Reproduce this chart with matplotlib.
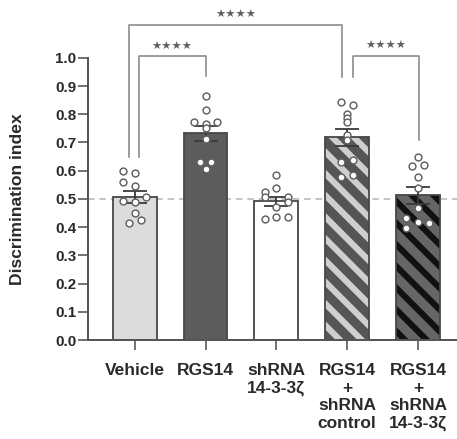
import numpy as np
import matplotlib
matplotlib.use("Agg")
import matplotlib.pyplot as plt

# groups and individual points
groups = ["Vehicle", "RGS14", "shRNA\n14-3-3ζ", "RGS14\n+\nshRNA\ncontrol", "RGS14\n+\nshRNA\n14-3-3ζ"]
vehicle = [0.600, 0.591, 0.560, 0.544, 0.506, 0.493, 0.488, 0.451, 0.426, 0.416]
rgs14 = [0.866, 0.816, 0.771, 0.766, 0.771, 0.751, 0.712, 0.632, 0.632, 0.605]
shrna = [0.585, 0.538, 0.526, 0.506, 0.508, 0.488, 0.473, 0.428, 0.437, 0.435]
rgs14_ctrl = [0.845, 0.833, 0.801, 0.786, 0.772, 0.727, 0.709, 0.632, 0.638, 0.576, 0.585]
rgs14_sh = [0.650, 0.615, 0.621, 0.576, 0.540, 0.467, 0.432, 0.417, 0.414, 0.396]
data = [vehicle, rgs14, shrna, rgs14_ctrl, rgs14_sh]

# horizontal scatter of the dots (in dot columns)
jitter = [
    [-1, 0, -1, 0, 1, -1, 0, 0, 0.5, -0.5],
    [0, 0, -1, 0, 1, 0, 0, -0.5, 0.5, 0],
    [0, 0, -1, -1, 1, 1, 0, -1, 0, 1],
    [-0.5, 0.5, 0, 0, 0, 0, 0, -0.5, 0.5, -0.5, 0.5],
    [0, -0.5, 0.5, 0, 0, 0, -1, 0, 1, -1],
]

# significance brackets: left x, right x, top, left foot, right foot
brackets = [
    (-0.08, 2.925, 1.117, 0.649, 0.933),
    (0.06, 1.0, 1.005, 0.649, 0.936),
    (3.08, 4.01, 1.007, 0.933, 0.709),
]

DPI = 130
fig = plt.figure(figsize=(457 / DPI, 439 / DPI), dpi=DPI)
ax = fig.add_axes([0.1926, 0.2255, 0.807, 0.765])
plt.rcParams['hatch.linewidth'] = 3.4

dark = "#474747"
txt = "#2a2a2a"
x = np.arange(len(groups))
means = [np.mean(d) for d in data]
sems = [np.std(d, ddof=1) / np.sqrt(len(d)) for d in data]
w = 0.62

ax.axhline(0.5, color="#b8b8b8", lw=0.9, ls=(0, (4, 3)), zorder=0.5, clip_on=False)

faces = ["#dcdcdc", "#5c5c5c", "white", "#555555", "#666666"]
hatches = [None, None, None, "\\\\", "\\\\"]
hcols = [None, None, None, "#cfcfcf", "#111111"]
for i in range(len(groups)):
    if hatches[i]:
        ax.bar(x[i], means[i], w, color=faces[i], edgecolor=hcols[i], hatch=hatches[i], lw=0, zorder=1)
        ax.bar(x[i], means[i], w, fill=False, edgecolor=dark, lw=1.0, zorder=1.5)
    else:
        ax.bar(x[i], means[i], w, color=faces[i], edgecolor=dark, lw=1.0, zorder=1)

ax.errorbar(x, means, yerr=sems, fmt="none", ecolor="#3a3a3a", elinewidth=1.0,
            capsize=6.5, capthick=1.0, zorder=3)

for i, d in enumerate(data):
    xs = x[i] + np.array(jitter[i]) * 0.163
    ax.plot(xs, d, "o", ms=3.8, mfc="white", mec="#606060", mew=0.8, zorder=4, clip_on=False)

for x1, x2, top, f1, f2 in brackets:
    ax.plot([x1, x1, x2, x2], [f1, top, top, f2], color="#8a8a8a", lw=0.9, clip_on=False, zorder=2)
    ax.text((x1 + x2) / 2, top + 0.016, "★★★★", ha="center", va="bottom", fontsize=6.3,
            color="#606060", family="DejaVu Sans")

ax.set_xlim(-0.66, 4.55)
ax.set_ylim(0, 1.19)
ax.spines["left"].set_bounds(0, 1.0)
for s in ["top", "right"]:
    ax.spines[s].set_visible(False)
for s in ["left", "bottom"]:
    ax.spines[s].set_color("#555555")
    ax.spines[s].set_linewidth(1.1)

ax.set_yticks(np.arange(0, 1.01, 0.1))
ax.set_yticklabels([f"{v:.1f}" for v in np.arange(0, 1.01, 0.1)])
ax.set_xticks(x)
ax.set_xticklabels(groups, linespacing=1.2)
ax.tick_params(axis="both", length=5.5, width=0.9, color="#555555")
ax.tick_params(axis="y", pad=1, labelsize=8.4, labelcolor=txt)
ax.tick_params(axis="x", pad=7.5, labelsize=9.6, labelcolor=txt)
for lab in ax.get_xticklabels() + ax.get_yticklabels():
    lab.set_fontweight("bold")
    lab.set_family("Liberation Sans")

ax.set_ylabel("Discrimination index", fontsize=9.7, fontweight="bold", color=txt,
              family="Liberation Sans")
ax.yaxis.set_label_coords(-0.171, 0.5 / 1.19)

fig.savefig("out.png", dpi=DPI)
